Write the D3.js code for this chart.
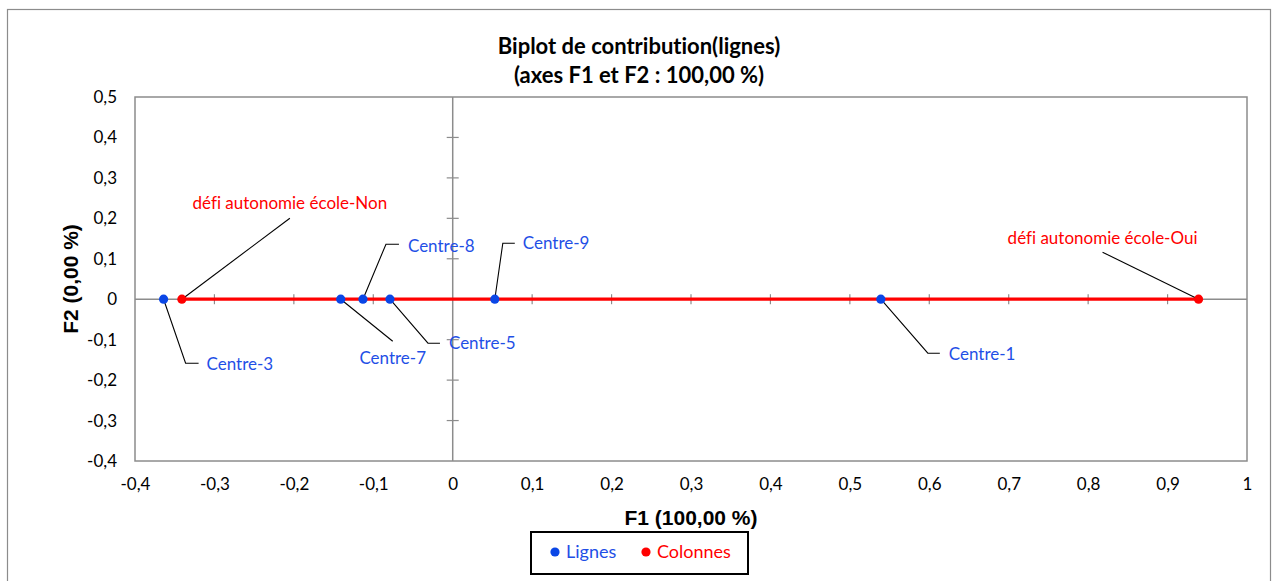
<!DOCTYPE html>
<html>
<head>
<meta charset="utf-8">
<script src="https://cdn.jsdelivr.net/npm/d3@7"></script>
<style>
  html, body { margin: 0; padding: 0; background: #fff; }
  svg { display: block; }
  text { font-variant-ligatures: none; font-feature-settings: "liga" 0, "clig" 0; }
</style>
</head>
<body>
<svg id="chart" width="1272" height="581"></svg>
<script>
// ---- Data ----
const rowNames = ["Centre-1", "Centre-3", "Centre-5", "Centre-7", "Centre-8", "Centre-9"];
const rowF1    = [0.539, -0.364, -0.079, -0.141, -0.113, 0.053];
const rowF2    = [0, 0, 0, 0, 0, 0];

const colNames = ["défi autonomie école-Non", "défi autonomie école-Oui"];
const colF1    = [-0.341, 0.939];
const colF2    = [0, 0];

const xTicks = [-0.4, -0.3, -0.2, -0.1, 0, 0.1, 0.2, 0.3, 0.4, 0.5, 0.6, 0.7, 0.8, 0.9, 1];
const yTicks = [-0.4, -0.3, -0.2, -0.1, 0, 0.1, 0.2, 0.3, 0.4, 0.5];

const titleLines = ["Biplot de contribution(lignes)", "(axes F1 et F2 : 100,00 %)"];
const xTitle = "F1 (100,00 %)";
const yTitle = "F2 (0,00 %)";
const legendNames = ["Lignes", "Colonnes"];

// ---- Layout (label leader offsets in px, relative to point) ----
const rowLabelLayout = {
  "Centre-1": {elbow: [47, 54], end: [59, 54], text: [68, 55], anchor: "start"},
  "Centre-3": {elbow: [22, 64], end: [35, 64], text: [43, 65], anchor: "start"},
  "Centre-5": {elbow: [38, 44], end: [50, 44], text: [59, 44], anchor: "start"},
  "Centre-7": {elbow: [52, 42], end: null,     text: [52, 59], anchor: "middle"},
  "Centre-8": {elbow: [23, -55], end: [36, -55], text: [45, -53], anchor: "start"},
  "Centre-9": {elbow: [8, -56], end: [20, -56], text: [28, -56], anchor: "start"}
};
const colLabelLayout = {
  "défi autonomie école-Non": {elbow: [108, -81], end: null, text: [108, -96], anchor: "middle"},
  "défi autonomie école-Oui": {elbow: [-96, -47], end: null, text: [-96, -61], anchor: "middle"}
};

const BLUE = "#0a46e6";
const BLUE_TXT = "#1f4fe6";
const RED = "#ff0000";
const GRID = "#8c8c8c";
const CAL = "Lato, 'Open Sans', sans-serif";
const ARIAL = "'Liberation Sans', Arial, sans-serif";

const svg = d3.select("#chart");

// outer frame
svg.append("rect").attr("x", 7.5).attr("y", 9.5).attr("width", 1263).attr("height", 600)
  .attr("fill", "#fff").attr("stroke", "#8c8c8c").attr("stroke-width", 1.2);

const x = d3.scaleLinear().domain([-0.4, 1]).range([135, 1247]);
const y = d3.scaleLinear().domain([-0.4, 0.5]).range([461, 97]);

const fmt = v => (Math.abs(v) < 1e-9 ? "0" : String(+v.toFixed(1)).replace(".", ","));

// plot area
svg.append("rect").attr("x", x(-0.4)).attr("y", y(0.5))
  .attr("width", x(1) - x(-0.4)).attr("height", y(-0.4) - y(0.5))
  .attr("fill", "none").attr("stroke", GRID).attr("stroke-width", 1.5);

// x axis labels (bottom)
const xAxis = d3.axisBottom(x).tickValues(xTicks).tickSize(0).tickPadding(17).tickFormat(fmt);
const gx = svg.append("g").attr("transform", `translate(0,${y(-0.4)})`).call(xAxis);
gx.select(".domain").remove();
gx.selectAll("text").attr("font-family", CAL).attr("font-size", 17).attr("fill", "#000");

// y axis labels (left)
const yAxis = d3.axisLeft(y).tickValues(yTicks).tickSize(0).tickPadding(18).tickFormat(fmt);
const gy = svg.append("g").attr("transform", `translate(${x(-0.4)},0)`).call(yAxis);
gy.select(".domain").remove();
gy.selectAll("text").attr("font-family", CAL).attr("font-size", 17).attr("fill", "#000");

// zero lines with crossing ticks
const gz = svg.append("g");
gz.append("line").attr("x1", x(-0.4)).attr("x2", x(1)).attr("y1", y(0)).attr("y2", y(0))
  .attr("stroke", GRID).attr("stroke-width", 1.5);
gz.append("line").attr("x1", x(0)).attr("x2", x(0)).attr("y1", y(0.5)).attr("y2", y(-0.4))
  .attr("stroke", GRID).attr("stroke-width", 1.5);
gz.selectAll(".xt").data(xTicks.filter(t => t > -0.4 && t < 1 && t !== 0)).enter().append("line")
  .attr("x1", d => x(d)).attr("x2", d => x(d)).attr("y1", y(0) - 5).attr("y2", y(0) + 5)
  .attr("stroke", GRID).attr("stroke-width", 1.2);
gz.selectAll(".yt").data(yTicks.filter(t => t > -0.4 && t < 0.5 && t !== 0)).enter().append("line")
  .attr("x1", x(0) - 6).attr("x2", x(0) + 6).attr("y1", d => y(d)).attr("y2", d => y(d))
  .attr("stroke", GRID).attr("stroke-width", 1.2);

// column series line
const cols = colNames.map((n, i) => ({name: n, x: colF1[i], y: colF2[i]}));
const rows = rowNames.map((n, i) => ({name: n, x: rowF1[i], y: rowF2[i]}));

svg.append("path").datum(cols)
  .attr("d", d3.line().x(d => x(d.x)).y(d => y(d.y)))
  .attr("stroke", RED).attr("stroke-width", 3.2).attr("fill", "none");

// leader lines
function leaders(data, layout) {
  data.forEach(d => {
    const L = layout[d.name];
    const px = x(d.x), py = y(d.y);
    const pts = [[px, py], [px + L.elbow[0], py + L.elbow[1]]];
    if (L.end) pts.push([px + L.end[0], py + L.end[1]]);
    svg.append("path").attr("d", d3.line()(pts))
      .attr("stroke", "#000").attr("stroke-width", 1.1).attr("fill", "none");
  });
}
leaders(rows, rowLabelLayout);
leaders(cols, colLabelLayout);

// points
svg.selectAll(".rowpt").data(rows).enter().append("circle")
  .attr("cx", d => x(d.x)).attr("cy", d => y(d.y)).attr("r", 4.6).attr("fill", BLUE);
svg.selectAll(".colpt").data(cols).enter().append("circle")
  .attr("cx", d => x(d.x)).attr("cy", d => y(d.y)).attr("r", 4.6).attr("fill", RED);

// labels
function labels(data, layout, color) {
  svg.selectAll(null).data(data).enter().append("text")
    .attr("x", d => x(d.x) + layout[d.name].text[0])
    .attr("y", d => y(d.y) + layout[d.name].text[1])
    .attr("dy", "0.35em")
    .attr("text-anchor", d => layout[d.name].anchor)
    .attr("font-family", CAL).attr("font-size", 17).attr("fill", color)
    .text(d => d.name);
}
labels(rows, rowLabelLayout, BLUE_TXT);
labels(cols, colLabelLayout, RED);

// title
svg.selectAll(".title").data(titleLines).enter().append("text")
  .attr("x", 639).attr("y", (d, i) => 54 + i * 29)
  .attr("text-anchor", "middle").attr("font-family", CAL).attr("font-weight", "bold")
  .attr("font-size", 22).attr("fill", "#000").text(d => d);

// axis titles
svg.append("text").attr("x", (x(-0.4) + x(1)) / 2).attr("y", 525).attr("text-anchor", "middle")
  .attr("font-family", ARIAL).attr("font-weight", "bold").attr("font-size", 21).text(xTitle);
svg.append("text").attr("transform", `translate(78,${(y(0.5) + y(-0.4)) / 2}) rotate(-90)`)
  .attr("text-anchor", "middle").attr("font-family", ARIAL).attr("font-weight", "bold")
  .attr("font-size", 21).text(yTitle);

// legend
const lg = svg.append("g");
lg.append("rect").attr("x", 531).attr("y", 532).attr("width", 217).attr("height", 42)
  .attr("fill", "#fff").attr("stroke", "#000").attr("stroke-width", 2);
const legendColors = [BLUE, RED];
const legendTxt = [BLUE_TXT, RED];
const legendX = [555, 646];
legendNames.forEach((n, i) => {
  lg.append("circle").attr("cx", legendX[i]).attr("cy", 552).attr("r", 4.6).attr("fill", legendColors[i]);
  lg.append("text").attr("x", legendX[i] + 11).attr("y", 552).attr("dy", "0.35em")
    .attr("font-family", CAL).attr("font-size", 18).attr("fill", legendTxt[i]).text(n);
});
</script>
</body>
</html>
